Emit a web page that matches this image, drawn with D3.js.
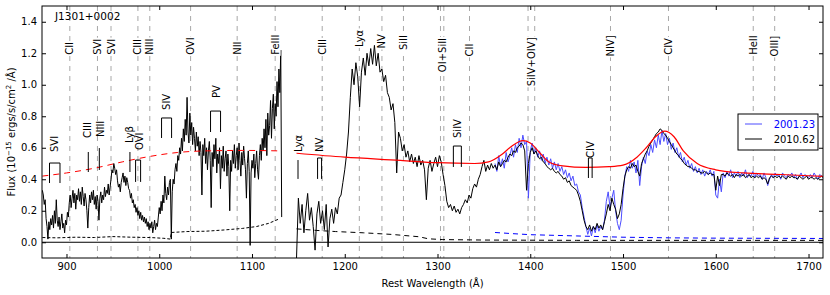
<!DOCTYPE html>
<html>
<head>
<meta charset="utf-8">
<script src="https://cdn.jsdelivr.net/npm/d3@7"></script>
<style>
    body { margin: 0; background: #fff; }
    svg text { font-family: "DejaVu Sans", sans-serif; }
</style>
</head>
<body>
<div id="chart"></div>
<script>

// ---- data ----
const objectName = "J1301+0002";
const epochs = ["2001.23", "2010.62"];

// 2010.62 spectrum, blue side (1 A sampling from 874 A)
const blackLeftStart = 874, blackLeftStep = 1;
const blackLeftFlux = [
    0.33, 0.30, 0.24, 0.27, 0.15, 0.10, 0.02, 0.13, 0.08, 0.15,
    0.11, 0.17, 0.09, 0.20, 0.12, 0.27, 0.14, 0.10, 0.16, 0.08,
    0.13, 0.18, 0.09, 0.12, 0.06, 0.14, 0.11, 0.19, 0.16, 0.25,
    0.30, 0.22, 0.28, 0.33, 0.25, 0.31, 0.21, 0.30, 0.27, 0.34,
    0.26, 0.32, 0.24, 0.35, 0.29, 0.23, 0.31, 0.27, 0.20, 0.09,
    0.22, 0.30, 0.25, 0.32, 0.27, 0.33, 0.24, 0.29, 0.21, 0.30,
    0.26, 0.14, 0.28, 0.32, 0.25, 0.30, 0.27, 0.35, 0.29, 0.33,
    0.31, 0.37, 0.30, 0.35, 0.40, 0.46, 0.44, 0.50, 0.47, 0.43,
    0.46, 0.39, 0.35, 0.37, 0.32, 0.38, 0.41, 0.44, 0.38, 0.42,
    0.36, 0.41, 0.38, 0.34, 0.33, 0.28, 0.31, 0.25, 0.27, 0.22,
    0.24, 0.19, 0.22, 0.17, 0.20, 0.15, 0.19, 0.14, 0.17, 0.13,
    0.16, 0.12, 0.15, 0.10, 0.13, 0.08, 0.12, 0.09, 0.13, 0.06,
    0.10, 0.14, 0.08, 0.12, 0.10, 0.16, 0.22, 0.18, 0.26, 0.20,
    0.30, 0.25, 0.42, 0.31, 0.27, 0.35, 0.30, 0.38, 0.40, 0.02,
    0.32, 0.40, 0.37, 0.46, 0.50, 0.45, 0.55, 0.52, 0.60, 0.56,
    0.66, 0.58, 0.72, 0.64, 0.78, 0.68, 0.92, 0.70, 0.63, 0.82,
    0.68, 0.76, 0.62, 0.73, 0.66, 0.58, 0.70, 0.61, 0.67, 0.55,
    0.64, 0.57, 0.30, 0.62, 0.55, 0.66, 0.50, 0.60, 0.46, 0.58,
    0.64, 0.52, 0.22, 0.57, 0.48, 0.62, 0.53, 0.66, 0.44, 0.56,
    0.50, 0.60, 0.34, 0.55, 0.47, 0.61, 0.45, 0.53, 0.58, 0.42,
    0.56, 0.48, 0.20, 0.52, 0.45, 0.58, 0.50, 0.62, 0.47, 0.55,
    0.60, 0.46, 0.63, 0.52, 0.42, 0.57, 0.49, 0.61, 0.53, 0.46,
    0.28, 0.50, 0.58, 0.45, -0.02, 0.44, 0.52, 0.47, 0.56, 0.41,
    0.50, 0.58, 0.46, 0.40, 0.55, 0.62, 0.52, 0.66, 0.58, 0.72,
    0.60, 0.78, 0.55, 0.82, 0.68, 0.74, 0.90, 0.66, 0.85, 0.94,
    0.72, 0.88, 0.80, 1.02, 0.86, 1.10, 0.95, 1.22, 0.16
];

// 2010.62 spectrum, red side (2 A sampling from 1148 A)
const blackRightStart = 1148, blackRightStep = 2;
const blackRightFlux = [
    -0.10, 0.28, 0.12, 0.24, 0.06, 0.20, 0.31, 0.14, 0.22, 0.10,
    -0.05, 0.18, 0.26, 0.12, 0.20, 0.08, 0.24, -0.03, 0.15, 0.21,
    0.12, 0.22, 0.18, 0.28, 0.30, 0.38, 0.46, 0.56, 0.70, 0.92,
    1.10, 1.00, 1.14, 1.05, 0.86, 1.08, 1.17, 1.06, 1.20, 1.12,
    1.23, 1.13, 1.25, 1.12, 1.20, 1.08, 1.10, 1.02, 1.06, 0.95,
    0.92, 0.84, 0.88, 0.76, 0.44, 0.70, 0.66, 0.58, 0.62, 0.54,
    0.58, 0.51, 0.56, 0.50, 0.54, 0.48, 0.55, 0.49, 0.52, 0.46,
    0.27, 0.47, 0.52, 0.45, 0.50, 0.54, 0.48, 0.55, 0.51, 0.43,
    0.36, 0.26, 0.22, 0.24, 0.20, 0.23, 0.19, 0.21, 0.18, 0.22,
    0.24, 0.27, 0.25, 0.30, 0.28, 0.34, 0.37, 0.35, 0.40, 0.43,
    0.48, 0.52, 0.45, 0.49, 0.46, 0.50, 0.47, 0.49, 0.46, 0.51,
    0.48, 0.50, 0.52, 0.51, 0.54, 0.56, 0.55, 0.58, 0.57, 0.60,
    0.61, 0.63, 0.62, 0.58, 0.33, 0.50, 0.57, 0.60, 0.56, 0.58,
    0.55, 0.53, 0.54, 0.51, 0.50, 0.48, 0.47, 0.46, 0.47, 0.45,
    0.44, 0.45, 0.43, 0.42, 0.40, 0.41, 0.38, 0.39, 0.36, 0.35,
    0.34, 0.33, 0.30, 0.26, 0.20, 0.14, 0.10, 0.08, 0.11, 0.07,
    0.10, 0.08, 0.12, 0.09, 0.11, 0.08, 0.13, 0.18, 0.24, 0.20,
    0.28, 0.24, 0.21, 0.15, 0.18, 0.24, 0.34, 0.42, 0.46, 0.48,
    0.47, 0.50, 0.48, 0.49, 0.45, 0.42, 0.50, 0.53, 0.56, 0.58,
    0.61, 0.63, 0.65, 0.67, 0.69, 0.70, 0.72, 0.71, 0.69, 0.68,
    0.66, 0.64, 0.62, 0.60, 0.58, 0.56, 0.55, 0.53, 0.52, 0.50,
    0.49, 0.48, 0.48, 0.47, 0.46, 0.46, 0.45, 0.45, 0.44, 0.44,
    0.45, 0.44, 0.43, 0.44, 0.43, 0.43, 0.33, 0.42, 0.36, 0.43,
    0.43, 0.42, 0.44, 0.43, 0.42, 0.43, 0.41, 0.43, 0.42, 0.43,
    0.42, 0.43, 0.41, 0.42, 0.43, 0.41, 0.42, 0.41, 0.42, 0.41,
    0.42, 0.40, 0.41, 0.40, 0.37, 0.41, 0.42, 0.41, 0.42, 0.41,
    0.42, 0.41, 0.42, 0.41, 0.40, 0.42, 0.41, 0.42, 0.41, 0.41,
    0.40, 0.42, 0.41, 0.40, 0.41, 0.42, 0.40, 0.41, 0.41, 0.40,
    0.41, 0.40, 0.41, 0.42, 0.41
];

// 2001.23 spectrum (2 A sampling from 1362 A)
const blueStart = 1362, blueStep = 2;
const blueFlux = [
    0.50, 0.45, 0.55, 0.48, 0.53, 0.47, 0.57, 0.51, 0.55, 0.60,
    0.54, 0.62, 0.57, 0.66, 0.60, 0.68, 0.62, 0.64, 0.28, 0.58,
    0.63, 0.56, 0.60, 0.54, 0.58, 0.52, 0.56, 0.50, 0.54, 0.49,
    0.53, 0.47, 0.51, 0.46, 0.50, 0.45, 0.48, 0.43, 0.46, 0.41,
    0.44, 0.39, 0.42, 0.36, 0.37, 0.32, 0.30, 0.22, 0.16, 0.10,
    0.05, 0.09, 0.04, 0.10, 0.06, 0.11, 0.07, 0.10, 0.08, 0.14,
    0.26, 0.32, 0.22, 0.28, 0.33, 0.20, 0.12, 0.08, 0.14, 0.30,
    0.42, 0.48, 0.45, 0.52, 0.47, 0.51, 0.44, 0.52, 0.36, 0.48,
    0.54, 0.50, 0.58, 0.55, 0.62, 0.57, 0.65, 0.60, 0.68, 0.62,
    0.71, 0.64, 0.69, 0.62, 0.66, 0.59, 0.63, 0.57, 0.60, 0.54,
    0.57, 0.51, 0.54, 0.49, 0.52, 0.47, 0.50, 0.45, 0.48, 0.44,
    0.47, 0.43, 0.46, 0.42, 0.45, 0.43, 0.46, 0.42, 0.45, 0.30,
    0.28, 0.40, 0.32, 0.44, 0.41, 0.45, 0.42, 0.46, 0.41, 0.44,
    0.42, 0.45, 0.41, 0.44, 0.42, 0.46, 0.41, 0.43, 0.42, 0.45,
    0.41, 0.44, 0.42, 0.43, 0.40, 0.44, 0.41, 0.36, 0.40, 0.43,
    0.41, 0.44, 0.42, 0.43, 0.40, 0.44, 0.42, 0.41, 0.43, 0.42,
    0.44, 0.41, 0.43, 0.40, 0.42, 0.44, 0.41, 0.43, 0.42, 0.41,
    0.43, 0.41, 0.44, 0.42, 0.40, 0.43, 0.42, 0.41
];

// error spectra [wavelength, flux]
const errBlackLeft = [[874, 0.030], [890, 0.028], [910, 0.032], [930, 0.030], [950, 0.036], [970, 0.032],
    [990, 0.030], [1005, 0.025], [1012, 0.020], [1013, 0.062], [1030, 0.068], [1050, 0.070],
    [1070, 0.078], [1090, 0.088], [1105, 0.100], [1118, 0.120], [1130, 0.150]];
const errBlackRight = [[1148, 0.085], [1170, 0.075], [1190, 0.068], [1220, 0.060], [1250, 0.050],
    [1270, 0.040], [1280, 0.035], [1290, 0.022], [1305, 0.017], [1350, 0.014], [1450, 0.012], [1716, 0.012]];
const errBlue = [[1362, 0.062], [1380, 0.055], [1400, 0.048], [1450, 0.040], [1500, 0.032],
    [1550, 0.028], [1600, 0.026], [1716, 0.024]];

// continuum + emission model
const modelLeft = [[874, 0.42], [900, 0.44], [930, 0.47], [960, 0.51], [990, 0.545], [1020, 0.57],
    [1050, 0.58], [1090, 0.583], [1130, 0.58]];
const modelRight = [[1148, 0.565], [1200, 0.54], [1260, 0.52], [1300, 0.505], [1340, 0.50], [1355, 0.51],
    [1370, 0.56], [1380, 0.61], [1392, 0.645], [1400, 0.63], [1410, 0.57], [1420, 0.51], [1435, 0.485],
    [1460, 0.475], [1485, 0.48], [1500, 0.49], [1515, 0.54], [1525, 0.60], [1535, 0.67], [1545, 0.705],
    [1555, 0.67], [1565, 0.58], [1580, 0.50], [1600, 0.46], [1630, 0.44], [1670, 0.43], [1716, 0.418]];

// emission line markers
const emLines = [903.6, 933.4, 948.0, 977.0, 989.8, 1033.8, 1084.0, 1125.0, 1175.7, 1215.7, 1240.1,
    1263.3, 1303.2, 1306.8, 1334.5, 1397.6, 1404.8, 1486.5, 1549.0, 1640.4, 1663.5];
const emLabels = ["CII", "SVI", "SVI", "CIII", "NIII", "OVI", "NII", "FeIII", "CIII", "Lyα", "NV", "SiII",
    "OI+SiII", "CII", "SiIV+OIV]", "NIV]", "CIV", "HeII", "OIII]"];
const emLabelWave = [903.6, 933.4, 948.0, 977.0, 989.8, 1033.8, 1084.0, 1125.0, 1175.7, 1215.7, 1240.1,
    1263.3, 1305.0, 1334.5, 1401.2, 1486.5, 1549.0, 1640.4, 1663.5];
const emLabelLevel = [1.19, 1.19, 1.19, 1.19, 1.19, 1.19, 1.19, 1.19, 1.19, 1.24, 1.23, 1.22,
    1.08, 1.18, 0.99, 1.18, 1.19, 1.19, 1.18];

// absorption trough markers
const absLabels = ["SVI", "CIII", "NIII", "Lyβ", "OVI", "SIV", "PV", "Lyα", "NV", "SiIV", "CIV"];
const absWave = [[881.7, 893.0], [923.5], [935.4], [968.4], [974.5, 979.9], [1002.5, 1013.3],
    [1055.3, 1066.1], [1149.6], [1170.7, 1175.0], [1317.1, 1325.7], [1462.7, 1466.7]];
const absTop = [0.503, 0.573, 0.598, 0.573, 0.522, 0.789, 0.833, 0.522, 0.535, 0.611, 0.535];
const absBottom = [0.376, 0.446, 0.459, 0.446, 0.383, 0.662, 0.700, 0.402, 0.402, 0.478, 0.408];
const absLabelWave = [887.3, 922.4, 936.2, 968.4, 978.5, 1007.8, 1062.0, 1149.6, 1173.0, 1322.0, 1465.0];
const absLabelLevel = [0.573, 0.662, 0.668, 0.630, 0.586, 0.840, 0.916, 0.573, 0.573, 0.662, 0.535];

const xTicks = [900, 1000, 1100, 1200, 1300, 1400, 1500, 1600, 1700];
const yTicks = [0.0, 0.2, 0.4, 0.6, 0.8, 1.0, 1.2, 1.4];

// ---- chart ----
const margin = { top: 6, right: 7, bottom: 37, left: 42 };
const width = 830 - margin.left - margin.right,
    height = 295 - margin.top - margin.bottom;

const svgRoot = d3.select("#chart").append("svg")
    .attr("width", 830)
    .attr("height", 295);

const svg = svgRoot.append("g")
    .attr("transform", "translate(" + margin.left + "," + margin.top + ")");

const x = d3.scaleLinear().domain([873.6, 1715.6]).range([0, width]);
const y = d3.scaleLinear().domain([-0.1, 1.5]).range([height, 0]);

svg.append("clipPath").attr("id", "clip")
    .append("rect").attr("width", width).attr("height", height);

const plot = svg.append("g").attr("clip-path", "url(#clip)");

function grid(start, step, flux) {
    return flux.map((f, i) => [start + i * step, f]);
}

const line = d3.line().x(d => x(d[0])).y(d => y(d[1]));
const smooth = d3.line().x(d => x(d[0])).y(d => y(d[1])).curve(d3.curveMonotoneX);

// emission line guides
plot.selectAll(".emline")
    .data(emLines)
    .enter().append("line")
    .attr("class", "emline")
    .attr("x1", d => x(d)).attr("x2", d => x(d))
    .attr("y1", 0).attr("y2", height)
    .attr("stroke", "#a8a8a8")
    .attr("stroke-width", 1)
    .attr("stroke-dasharray", "5,5");

// zero line
plot.append("line")
    .attr("x1", 0).attr("x2", width)
    .attr("y1", y(0)).attr("y2", y(0))
    .attr("stroke", "black").attr("stroke-width", 1);

// error spectra
plot.append("path").datum(errBlue)
    .attr("fill", "none").attr("stroke", "#0000ff").attr("stroke-width", 1)
    .attr("stroke-dasharray", "5,4").attr("d", line);
plot.append("path").datum(errBlackLeft)
    .attr("fill", "none").attr("stroke", "black").attr("stroke-width", 1)
    .attr("stroke-dasharray", "3,2").attr("d", line);
plot.append("path").datum(errBlackRight)
    .attr("fill", "none").attr("stroke", "black").attr("stroke-width", 1)
    .attr("stroke-dasharray", "5,4").attr("d", line);

// 2001.23 spectrum
plot.append("path").datum(grid(blueStart, blueStep, blueFlux))
    .attr("fill", "none").attr("stroke", "#4d4dff").attr("stroke-width", 1)
    .attr("d", line);

// 2010.62 spectrum
plot.append("path").datum(grid(blackLeftStart, blackLeftStep, blackLeftFlux))
    .attr("fill", "none").attr("stroke", "black").attr("stroke-width", 1)
    .attr("d", line);
plot.append("path").datum(grid(blackRightStart, blackRightStep, blackRightFlux))
    .attr("fill", "none").attr("stroke", "black").attr("stroke-width", 1)
    .attr("d", line);

// model
plot.append("path").datum(modelLeft)
    .attr("fill", "none").attr("stroke", "red").attr("stroke-width", 1)
    .attr("stroke-dasharray", "6,5").attr("d", smooth);
plot.append("path").datum(modelRight)
    .attr("fill", "none").attr("stroke", "red").attr("stroke-width", 1.2)
    .attr("d", smooth);

// emission labels (white box behind, like a bbox)
const emG = svg.selectAll(".emlabel")
    .data(emLabels)
    .enter().append("g")
    .attr("class", "emlabel")
    .attr("transform", (d, i) => "translate(" + x(emLabelWave[i]) + "," + y(emLabelLevel[i]) + ") rotate(-90)");
emG.append("text")
    .attr("dy", "0.35em")
    .attr("font-size", "10px")
    .text(d => d);
emG.each(function () {
    const g = d3.select(this);
    const bb = g.select("text").node().getBBox();
    g.insert("rect", "text")
        .attr("x", bb.x - 1).attr("y", bb.y)
        .attr("width", bb.width + 2).attr("height", bb.height)
        .attr("fill", "white");
});

// absorption markers
absLabels.forEach(function (name, i) {
    const w = absWave[i];
    let d;
    if (w.length === 1) {
        d = "M" + x(w[0]) + "," + y(absBottom[i]) + "V" + y(absTop[i]);
    } else {
        d = "M" + x(w[0]) + "," + y(absBottom[i]) + "V" + y(absTop[i]) +
            "H" + x(w[1]) + "V" + y(absBottom[i]);
    }
    svg.append("path")
        .attr("d", d)
        .attr("fill", "none")
        .attr("stroke", "black")
        .attr("stroke-width", 1);

    svg.append("text")
        .attr("transform", "translate(" + x(absLabelWave[i]) + "," + y(absLabelLevel[i]) + ") rotate(-90)")
        .attr("dy", "0.35em")
        .attr("font-size", "10px")
        .text(name);
});

// object name
svg.append("text")
    .attr("x", 13).attr("y", 14)
    .attr("font-size", "10.5px")
    .text(objectName);

// axes, ticks inward on all sides
const xAxis = d3.axisBottom(x).tickValues(xTicks).tickSizeInner(-4).tickSizeOuter(0).tickPadding(5)
    .tickFormat(d3.format("d"));
const yAxis = d3.axisLeft(y).tickValues(yTicks).tickSizeInner(-4).tickSizeOuter(0).tickPadding(5)
    .tickFormat(d3.format(".1f"));

svg.append("g").attr("class", "x-axis axis")
    .attr("transform", "translate(0," + height + ")")
    .call(xAxis);
svg.append("g").attr("class", "x-axis-top axis")
    .call(d3.axisTop(x).tickValues(xTicks).tickSizeInner(-4).tickSizeOuter(0).tickFormat(""));
svg.append("g").attr("class", "y-axis axis")
    .call(yAxis);
svg.append("g").attr("class", "y-axis-right axis")
    .attr("transform", "translate(" + width + ",0)")
    .call(d3.axisRight(y).tickValues(yTicks).tickSizeInner(-4).tickSizeOuter(0).tickFormat(""));

svg.selectAll(".axis .domain").remove();
svg.selectAll(".axis text").attr("font-size", "10px").attr("fill", "black");
svg.selectAll(".axis line").attr("stroke", "black");

// frame
svg.append("rect")
    .attr("width", width).attr("height", height)
    .attr("fill", "none").attr("stroke", "black").attr("stroke-width", 1);

// axis titles
svg.append("text")
    .attr("x", width / 2).attr("y", height + 29)
    .attr("text-anchor", "middle")
    .attr("font-size", "10px")
    .text("Rest Wavelength (Å)");

const yTitle = svg.append("text")
    .attr("transform", "translate(-27," + (height / 2) + ") rotate(-90)")
    .attr("text-anchor", "middle")
    .attr("font-size", "10px");
yTitle.append("tspan").text("Flux (10");
yTitle.append("tspan").attr("font-size", "7px").attr("dy", "-4").text("−15");
yTitle.append("tspan").attr("dy", "4").text(" ergs/s/cm");
yTitle.append("tspan").attr("font-size", "7px").attr("dy", "-4").text("2");
yTitle.append("tspan").attr("dy", "4").text(" /Å)");

// legend
const legend = svg.append("g")
    .attr("transform", "translate(" + (738 - margin.left) + "," + (114 - margin.top) + ")");
legend.append("rect")
    .attr("width", 80).attr("height", 36)
    .attr("fill", "white").attr("stroke", "black").attr("stroke-width", 1);
const legendColors = ["#4d4dff", "black"];
epochs.forEach(function (ep, i) {
    legend.append("line")
        .attr("x1", 7).attr("x2", 24)
        .attr("y1", 10 + i * 15).attr("y2", 10 + i * 15)
        .attr("stroke", legendColors[i]).attr("stroke-width", 1);
    legend.append("text")
        .attr("x", 77).attr("y", 10 + i * 15)
        .attr("dy", "0.35em")
        .attr("text-anchor", "end")
        .attr("font-size", "10px")
        .attr("fill", i === 0 ? "#0000ff" : "black")
        .text(ep);
});

</script>
</body>
</html>
